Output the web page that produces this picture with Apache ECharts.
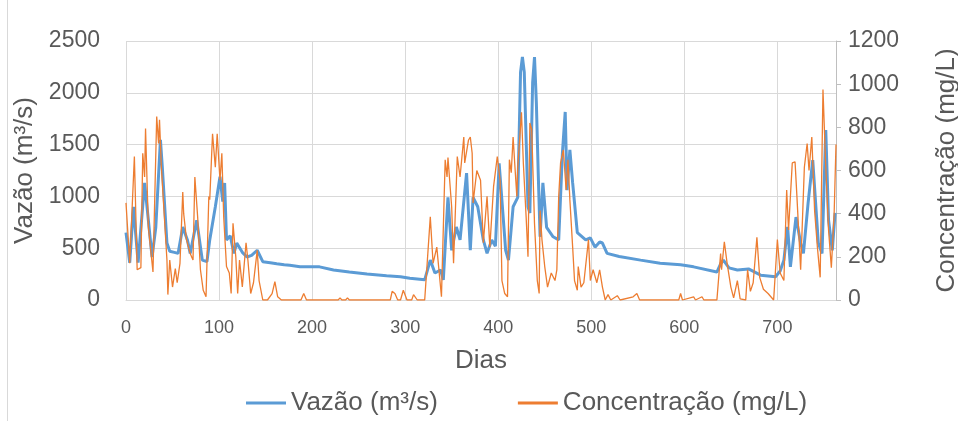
<!DOCTYPE html>
<html>
<head>
<meta charset="utf-8">
<script src="https://cdn.jsdelivr.net/npm/echarts@6/dist/echarts.min.js"></script>
<style>
html, body { margin: 0; padding: 0; background: #fff; }
#chart { width: 958px; height: 421px; }
</style>
</head>
<body>
<div id="chart"></div>
<script>
// Vazão (m³/s), dias
const flowDays = [0, 4, 8, 13, 20, 28, 32, 37, 39, 44, 47, 52, 56, 61, 66, 69, 76, 82, 87, 90, 96, 101, 104, 106, 108, 112, 116, 119, 125, 130, 135, 141, 147, 155, 162, 170, 176, 187, 208, 223, 240, 259, 280, 295, 305, 321, 327, 332, 338, 341, 346, 350, 355, 359, 366, 370, 373, 378, 384, 388, 393, 397, 401, 408, 411, 416, 421, 424, 426, 428, 432, 434, 437, 439, 441, 443, 445, 448, 452, 459, 465, 469, 472, 474, 477, 480, 485, 494, 499, 504, 509, 512, 517, 530, 553, 574, 596, 610, 635, 639, 642, 648, 657, 669, 682, 698, 703, 707, 711, 714, 720, 725, 728, 733, 738, 744, 748, 752, 755, 759, 762]
const flowValues = [650, 360, 900, 360, 1130, 415, 700, 1545, 1285, 550, 470, 460, 450, 705, 580, 450, 770, 385, 370, 580, 900, 1190, 950, 1130, 580, 620, 450, 550, 460, 415, 430, 480, 370, 360, 350, 340, 335, 320, 320, 290, 270, 250, 235, 225, 210, 195, 385, 260, 290, 195, 990, 480, 705, 580, 1225, 480, 990, 900, 580, 450, 580, 520, 1320, 480, 385, 900, 990, 2200, 2345, 2200, 900, 840, 2100, 2345, 1900, 1225, 610, 1130, 700, 610, 580, 1420, 1815, 1060, 1450, 1130, 650, 580, 600, 510, 560, 550, 450, 420, 385, 355, 340, 320, 270, 350, 385, 310, 290, 300, 240, 225, 280, 385, 705, 320, 800, 550, 450, 935, 1350, 550, 450, 1640, 770, 480, 840]

// Concentração (mg/L), dias
const concDays = [0, 4, 9, 12, 16, 18, 20, 21, 24, 29, 33, 35, 36, 38, 44, 45, 47, 50, 53, 55, 58, 61, 62, 65, 69, 72, 74, 77, 80, 83, 86, 89, 90, 93, 96, 98, 101, 103, 105, 108, 111, 113, 115, 118, 120, 122, 125, 129, 131, 134, 137, 141, 143, 147, 152, 157, 160, 163, 167, 188, 191, 194, 228, 230, 232, 236, 238, 240, 256, 258, 260, 284, 286, 289, 292, 295, 298, 302, 307, 309, 313, 321, 327, 330, 334, 339, 343, 345, 346, 350, 352, 356, 359, 363, 364, 368, 370, 372, 373, 377, 381, 384, 388, 391, 395, 399, 402, 404, 407, 410, 412, 414, 416, 418, 420, 421, 425, 427, 430, 432, 434, 436, 439, 442, 444, 445, 447, 450, 453, 457, 461, 463, 465, 467, 470, 473, 475, 477, 480, 482, 485, 486, 489, 492, 497, 499, 502, 506, 509, 512, 515, 518, 521, 528, 531, 545, 549, 552, 594, 596, 598, 610, 612, 619, 621, 635, 639, 640, 643, 646, 650, 653, 657, 660, 666, 668, 671, 674, 678, 681, 685, 690, 696, 700, 703, 707, 710, 712, 716, 719, 721, 725, 729, 732, 734, 737, 740, 743, 746, 749, 752, 755, 758, 761, 763]
const concValues = [450, 170, 665, 140, 150, 680, 570, 795, 340, 130, 850, 725, 835, 615, 185, 25, 185, 60, 145, 80, 170, 500, 400, 280, 215, 185, 570, 385, 140, 45, 15, 480, 465, 770, 615, 770, 555, 680, 385, 155, 125, 30, 355, 200, 30, 185, 60, 265, 185, 30, 80, 230, 90, 0, 0, 30, 85, 15, 0, 0, 30, 0, 0, 10, 0, 0, 10, 0, 0, 8, 0, 0, 40, 30, 0, 0, 45, 0, 0, 25, 0, 0, 385, 170, 245, 15, 650, 570, 660, 430, 170, 665, 570, 755, 635, 740, 755, 680, 450, 600, 555, 265, 480, 245, 525, 665, 555, 90, 30, 15, 650, 590, 755, 615, 480, 615, 870, 635, 385, 200, 820, 790, 355, 90, 30, 415, 280, 155, 60, 125, 90, 140, 480, 635, 695, 510, 650, 465, 245, 90, 45, 155, 60, 80, 280, 90, 140, 80, 140, 60, 0, 25, 0, 20, 0, 15, 30, 0, 0, 30, 0, 15, 0, 15, 0, 0, 215, 140, 270, 170, 60, 10, 90, 5, 0, 140, 40, 80, 290, 105, 50, 30, 0, 280, 125, 90, 510, 325, 635, 640, 480, 140, 615, 725, 600, 755, 415, 245, 105, 975, 615, 325, 150, 400, 720]

const flowData = flowDays.map((d, i) => [d, flowValues[i]])
const concData = concDays.map((d, i) => [d, concValues[i]])

const chart = echarts.init(document.getElementById('chart'))

const textColor = '#595959'
const gridColor = '#d9d9d9'
const font = 'Liberation Sans'
const plain = v => String(v)

chart.setOption({
    animation: false,
    textStyle: { fontFamily: font },
    graphic: [{
        type: 'line',
        shape: { x1: 7.5, y1: 0, x2: 7.5, y2: 421 },
        style: { stroke: gridColor, lineWidth: 1 }
    }],
    grid: { left: 126, right: 122, top: 41, bottom: 121, outerBoundsMode: 'none' },
    legend: {
        left: 241,
        top: 385,
        icon: 'rect',
        itemWidth: 40,
        itemHeight: 3,
        itemGap: 80,
        textStyle: { fontSize: 26, color: textColor, fontFamily: font },
        data: ['Vazão (m³/s)', 'Concentração (mg/L)']
    },
    xAxis: {
        type: 'value',
        min: 0,
        max: 763,
        interval: 100,
        name: 'Dias',
        nameLocation: 'middle',
        nameGap: 48,
        nameTextStyle: { fontSize: 26, color: textColor },
        axisLine: { show: true, lineStyle: { color: gridColor } },
        axisTick: { show: false },
        axisLabel: { fontSize: 18, color: textColor, margin: 19, showMaxLabel: false, formatter: plain },
        splitLine: { show: true, lineStyle: { color: gridColor } }
    },
    yAxis: [{
        type: 'value',
        min: 0,
        max: 2500,
        interval: 500,
        name: 'Vazão (m³/s)',
        nameLocation: 'middle',
        nameRotate: 90,
        nameGap: 86,
        nameTextStyle: { fontSize: 26, color: textColor },
        axisLine: { show: false },
        axisTick: { show: false },
        axisLabel: { fontSize: 23, color: textColor, margin: 26, formatter: plain },
        splitLine: { show: true, lineStyle: { color: gridColor } }
    }, {
        type: 'value',
        min: 0,
        max: 1200,
        interval: 200,
        name: 'Concentração (mg/L)',
        nameLocation: 'middle',
        nameRotate: 90,
        nameGap: 98,
        nameTextStyle: { fontSize: 26, color: textColor },
        axisLine: { show: true, lineStyle: { color: '#bfbfbf' } },
        axisTick: { show: true, length: 5, lineStyle: { color: '#bfbfbf' } },
        axisLabel: { fontSize: 23, color: textColor, margin: 12, formatter: plain },
        splitLine: { show: false }
    }],
    series: [{
        name: 'Vazão (m³/s)',
        type: 'line',
        yAxisIndex: 0,
        data: flowData,
        showSymbol: false,
        itemStyle: { color: '#5b9bd5' },
        lineStyle: { color: '#5b9bd5', width: 3 }
    }, {
        name: 'Concentração (mg/L)',
        type: 'line',
        yAxisIndex: 1,
        data: concData,
        showSymbol: false,
        itemStyle: { color: '#ed7d31' },
        lineStyle: { color: '#ed7d31', width: 1.3 }
    }]
})
</script>
</body>
</html>
